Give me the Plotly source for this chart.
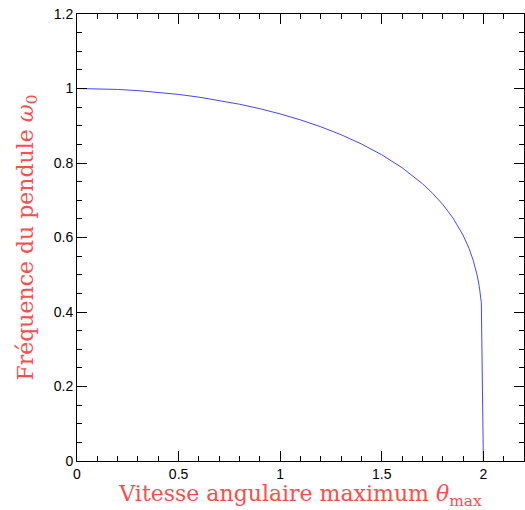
import plotly.graph_objects as go

# Max angular velocity (x) and pendulum frequency (y)
vitesse = [0.0, 0.1, 0.2, 0.3, 0.4, 0.5, 0.6, 0.7, 0.8, 0.9, 1.0, 1.1, 1.2, 1.3,
           1.4, 1.5, 1.6, 1.7, 1.75, 1.8, 1.85, 1.9, 1.93, 1.95, 1.97, 1.98,
           1.99, 2.0]
frequence = [1.0, 0.9994, 0.9975, 0.9943, 0.9899, 0.9841, 0.9768, 0.9681,
             0.9578, 0.9458, 0.9318, 0.9157, 0.8972, 0.8759, 0.8511, 0.8220,
             0.7873, 0.7445, 0.7187, 0.6888, 0.6527, 0.6065, 0.5701, 0.5390,
             0.4972, 0.4680, 0.4249, 0.0]

x_ticks = [0, 0.5, 1, 1.5, 2]
y_ticks = [0, 0.2, 0.4, 0.6, 0.8, 1, 1.2]
y_tick_labels = ["0", "0.2", "0.4", "0.6", "0.8", "1", "1.2"]

fig = go.Figure()
fig.add_trace(go.Scatter(x=vitesse, y=frequence, mode="lines",
                         line=dict(color="#4646ff", width=1),
                         hoverinfo="skip", showlegend=False))

title_font = dict(family="DejaVu Serif, serif", size=22, color="#ff4d4d")
tick_font = dict(family="Liberation Sans, sans-serif", size=14, color="black")

fig.update_layout(
    width=525, height=510,
    margin=dict(l=77, r=1, t=14, b=49),
    paper_bgcolor="white", plot_bgcolor="white",
    showlegend=False,
    xaxis=dict(range=[0, 2.2], tickvals=x_ticks, ticktext=[str(v) for v in x_ticks],
               ticks="inside", ticklen=10, tickwidth=1, tickcolor="black",
               minor=dict(dtick=0.1, ticks="inside", ticklen=5, tickcolor="black"),
               showline=True, linecolor="black", linewidth=1, mirror="allticks",
               showgrid=False, zeroline=False, tickfont=tick_font,
               title=dict(text="Vitesse angulaire maximum <i>θ</i><sub>max</sub>",
                          font=title_font, standoff=4)),
    yaxis=dict(range=[0, 1.2], tickvals=y_ticks, ticktext=y_tick_labels,
               ticks="inside", ticklen=10, tickwidth=1, tickcolor="black",
               minor=dict(dtick=0.05, ticks="inside", ticklen=5, tickcolor="black"),
               showline=True, linecolor="black", linewidth=1, mirror="allticks",
               showgrid=False, zeroline=False, tickfont=tick_font,
               title=dict(text="Fréquence du pendule <i>ω</i><sub>0</sub>",
                          font=title_font, standoff=14)),
)

fig.write_html("out.html")
